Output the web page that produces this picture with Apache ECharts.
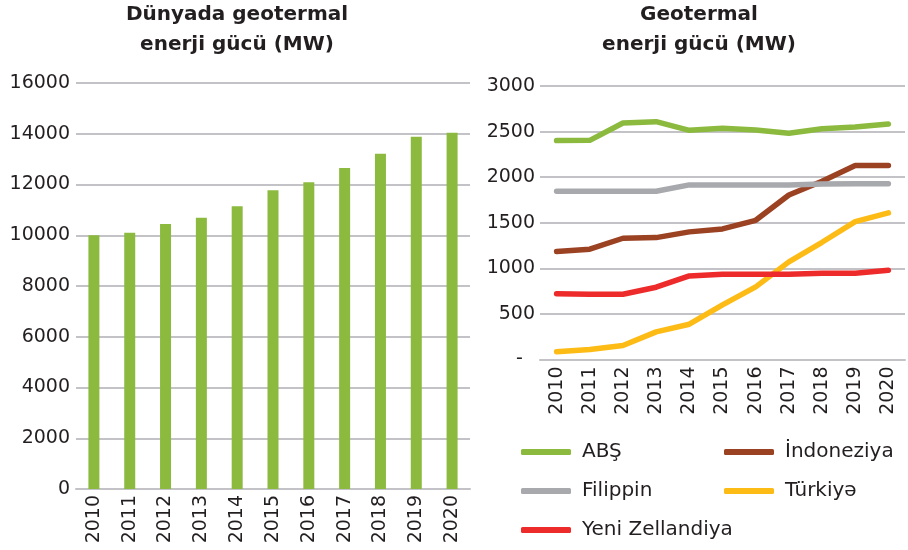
<!DOCTYPE html>
<html>
<head>
<meta charset="utf-8">
<script src="https://cdn.jsdelivr.net/npm/echarts@6/dist/echarts.min.js"></script>
<style>
  html, body { margin: 0; padding: 0; background: #fff; }
  #main { width: 908px; height: 550px; }
</style>
</head>
<body>
<div id="main"></div>
<script>
var chart = echarts.init(document.getElementById('main'));

var years = ['2010', '2011', '2012', '2013', '2014', '2015', '2016', '2017', '2018', '2019', '2020'];

// dunya uzre umumi guc (MW)
var worldTotal = [10000, 10100, 10440, 10690, 11140, 11770, 12090, 12650, 13210, 13880, 14040];

// olkeler
var abs = [2401, 2404, 2594, 2609, 2514, 2536, 2518, 2481, 2532, 2551, 2583];
var indoneziya = [1184, 1210, 1330, 1337, 1400, 1432, 1527, 1805, 1955, 2127, 2127];
var filippin = [1845, 1845, 1845, 1845, 1915, 1915, 1915, 1915, 1925, 1928, 1928];
var turkiye = [84, 110, 153, 303, 387, 599, 797, 1071, 1286, 1513, 1608];
var yeniZellandiya = [720, 716, 716, 793, 917, 935, 935, 935, 946, 946, 979];

var textColor = '#231f20';
var gridColor = '#c3c3c7';
var fontFam = '"DejaVu Sans", sans-serif';

function lineSeries(name, data, color) {
  return {
    name: name,
    type: 'line',
    xAxisIndex: 1,
    yAxisIndex: 1,
    data: data,
    showSymbol: false,
    symbol: 'none',
    lineStyle: { width: 5.5, color: color, cap: 'round', join: 'round' },
    itemStyle: { color: color }
  };
}

var option = {
  animation: false,
  textStyle: { fontFamily: fontFam },
  title: [
    {
      text: 'Dünyada geotermal\nenerji gücü (MW)',
      left: 232, top: -5, textAlign: 'center',
      textStyle: { fontSize: 20, fontWeight: 'bold', color: textColor, lineHeight: 30, fontFamily: fontFam }
    },
    {
      text: 'Geotermal\nenerji gücü (MW)',
      left: 694, top: -5, textAlign: 'center',
      textStyle: { fontSize: 20, fontWeight: 'bold', color: textColor, lineHeight: 30, fontFamily: fontFam }
    }
  ],
  legend: [
    {
      orient: 'vertical',
      left: 516, top: 437,
      itemWidth: 50, itemHeight: 6, itemGap: 19,
      icon: 'roundRect',
      textStyle: { fontSize: 20, color: textColor, padding: [0, 0, 0, 6], fontFamily: fontFam },
      data: ['ABŞ', 'Filippin', 'Yeni Zellandiya']
    },
    {
      orient: 'vertical',
      left: 719, top: 437,
      itemWidth: 50, itemHeight: 6, itemGap: 19,
      icon: 'roundRect',
      textStyle: { fontSize: 20, color: textColor, padding: [0, 0, 0, 6], fontFamily: fontFam },
      data: ['İndoneziya', 'Türkiyə']
    }
  ],
  grid: [
    { left: 76, width: 394, top: 83, height: 406 },
    { left: 540, width: 365, top: 86, height: 273.5 }
  ],
  xAxis: [
    {
      type: 'category', gridIndex: 0, data: years,
      axisLine: { lineStyle: { color: gridColor, width: 2 } },
      axisTick: { show: false },
      axisLabel: { rotate: 90, fontSize: 19, color: textColor, margin: 6 }
    },
    {
      type: 'category', gridIndex: 1, data: years,
      axisLine: { lineStyle: { color: gridColor, width: 2 } },
      axisTick: { show: false },
      axisLabel: { rotate: 90, fontSize: 19, color: textColor, margin: 7 }
    }
  ],
  yAxis: [
    {
      type: 'value', gridIndex: 0, min: 0, max: 16000, interval: 2000,
      axisLine: { show: false }, axisTick: { show: false },
      splitLine: { lineStyle: { color: gridColor, width: 2 } },
      axisLabel: {
        fontSize: 19, color: textColor, margin: 6,
        formatter: function (v) { return String(v); }
      }
    },
    {
      type: 'value', gridIndex: 1, min: 0, max: 3000, interval: 500,
      axisLine: { show: false }, axisTick: { show: false },
      splitLine: { lineStyle: { color: gridColor, width: 2 } },
      axisLabel: {
        fontSize: 19, color: textColor, margin: 5,
        formatter: function (v) { return v === 0 ? '-  ' : String(v); }
      }
    }
  ],
  series: [
    {
      name: 'Dünya',
      type: 'bar',
      xAxisIndex: 0,
      yAxisIndex: 0,
      data: worldTotal,
      barWidth: 11,
      itemStyle: { color: '#8cba3f' }
    },
    lineSeries('ABŞ', abs, '#8cba3f'),
    lineSeries('İndoneziya', indoneziya, '#9b4223'),
    lineSeries('Filippin', filippin, '#a8a9ad'),
    lineSeries('Türkiyə', turkiye, '#fdbb16'),
    lineSeries('Yeni Zellandiya', yeniZellandiya, '#ee2b2b')
  ]
};

chart.setOption(option);
</script>
</body>
</html>
